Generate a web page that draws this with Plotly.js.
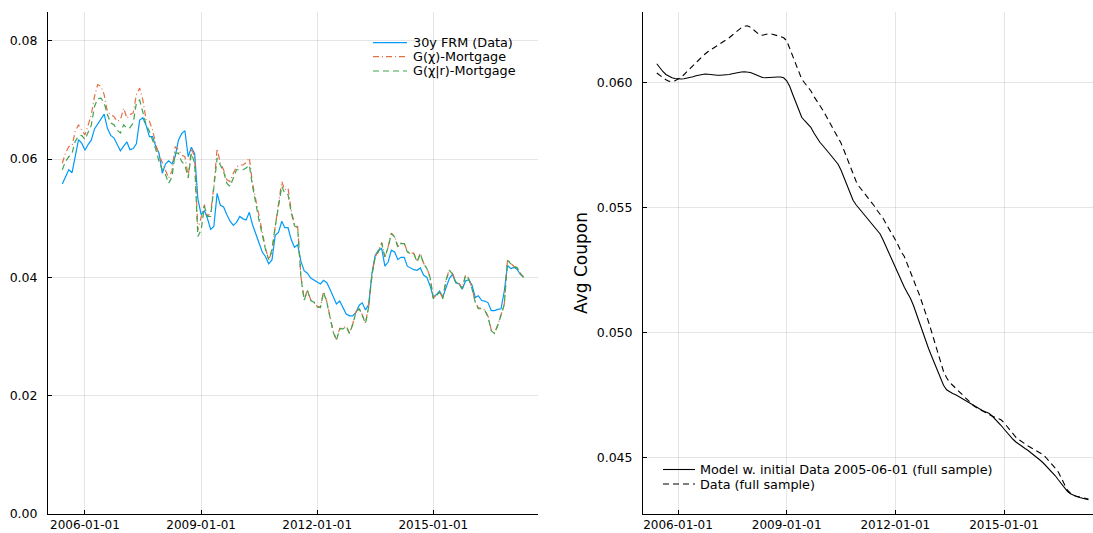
<!DOCTYPE html>
<html>
<head>
<meta charset="utf-8">
<script src="https://cdn.plot.ly/plotly-3.0.1.min.js"></script>
<style>html,body{margin:0;padding:0;background:#fff;}#chart{width:1093px;height:533px;}</style>
</head>
<body>
<div id="chart"></div>
<script>
// ---- data ----
const startYear = 2005, startMonth = 6, nMonths = 144;
const months = [];
for (let i = 0; i < nMonths; i++) {
  const m0 = startMonth - 1 + i;
  const y = startYear + Math.floor(m0 / 12);
  const m = (m0 % 12) + 1;
  months.push(y + '-' + (m < 10 ? '0' + m : m) + '-01');
}

const frm30 = [
  .0558,.0570,.0582,.0577,.0607,.0633,.0627,
  .0615,.0625,.0632,.0651,.0660,.0668,.0676,.0652,.0640,.0636,.0624,.0614,
  .0622,.0629,.0616,.0618,.0626,.0666,.0670,.0657,.0638,.0638,.0621,.0610,
  .0576,.0592,.0597,.0592,.0604,.0632,.0643,.0648,.0604,.0620,.0609,.0533,
  .0506,.0513,.0500,.0481,.0486,.0542,.0522,.0519,.0506,.0495,.0488,.0493,
  .0503,.0499,.0497,.0510,.0489,.0474,.0456,.0443,.0435,.0423,.0430,.0471,
  .0476,.0495,.0484,.0484,.0464,.0451,.0455,.0427,.0411,.0407,.0399,.0396,
  .0392,.0389,.0395,.0391,.0380,.0368,.0355,.0360,.0350,.0338,.0335,.0335,
  .0341,.0353,.0357,.0345,.0354,.0407,.0437,.0446,.0449,.0419,.0426,.0446,
  .0443,.0430,.0434,.0434,.0419,.0416,.0413,.0412,.0416,.0404,.0400,.0386,
  .0367,.0371,.0377,.0367,.0384,.0398,.0405,.0391,.0389,.0380,.0394,.0396,
  .0387,.0366,.0369,.0361,.0360,.0357,.0344,.0344,.0346,.0347,.0377,.0420,
  .0415,.0417,.0414,.0405,.0401
];

const gChi = [
  .0593,.0610,.0621,.0623,.0647,.0658,.0649,
  .0641,.0658,.0675,.0706,.0726,.0723,.0709,.0680,.0675,.0672,.0664,.0666,
  .0686,.0669,.0675,.0678,.0709,.0720,.0700,.0666,.0664,.0649,.0624,.0607,
  .0593,.0579,.0568,.0580,.0621,.0616,.0607,.0604,.0571,.0618,.0604,.0480,
  .0503,.0523,.0503,.0509,.0554,.0618,.0593,.0582,.0565,.0562,.0576,.0587,
  .0590,.0590,.0594,.0602,.0559,.0531,.0503,.0475,.0449,.0430,.0444,.0486,
  .0525,.0562,.0548,.0551,.0514,.0489,.0486,.0401,.0362,.0379,.0362,.0359,
  .0351,.0350,.0376,.0359,.0334,.0308,.0295,.0314,.0314,.0318,.0306,.0321,
  .0342,.0348,.0337,.0323,.0351,.0404,.0435,.0444,.0459,.0435,.0452,.0475,
  .0469,.0452,.0458,.0458,.0444,.0441,.0441,.0427,.0441,.0424,.0416,.0401,
  .0365,.0370,.0376,.0365,.0396,.0413,.0407,.0393,.0390,.0382,.0404,.0399,
  .0382,.0359,.0348,.0348,.0345,.0334,.0311,.0306,.0320,.0337,.0355,.0430,
  .0424,.0418,.0418,.0407,.0401
];

const gChiR = [
  .0582,.0596,.0604,.0610,.0630,.0639,.0640,
  .0633,.0646,.0657,.0689,.0702,.0703,.0695,.0675,.0661,.0658,.0649,.0644,
  .0658,.0652,.0653,.0661,.0695,.0700,.0680,.0658,.0647,.0633,.0616,.0596,
  .0582,.0573,.0559,.0570,.0610,.0610,.0596,.0590,.0568,.0610,.0593,.0469,
  .0480,.0520,.0503,.0503,.0548,.0602,.0590,.0579,.0559,.0554,.0568,.0582,
  .0582,.0582,.0585,.0590,.0554,.0523,.0497,.0472,.0447,.0430,.0447,.0486,
  .0520,.0554,.0542,.0540,.0510,.0487,.0484,.0400,.0361,.0378,.0361,.0358,
  .0350,.0349,.0375,.0358,.0333,.0307,.0294,.0313,.0313,.0317,.0305,.0320,
  .0341,.0347,.0336,.0322,.0350,.0403,.0434,.0443,.0458,.0434,.0451,.0474,
  .0468,.0451,.0457,.0457,.0443,.0440,.0440,.0426,.0440,.0423,.0415,.0400,
  .0364,.0369,.0375,.0364,.0395,.0412,.0406,.0392,.0389,.0381,.0403,.0398,
  .0381,.0358,.0347,.0347,.0344,.0333,.0310,.0305,.0319,.0336,.0354,.0429,
  .0423,.0417,.0417,.0406,.0400
];

const modelCoupon = [
  .06076,.06060,.06045,.06033,.06025,.06020,.06017,
  .06015,.06015,.06016,.06018,.06020,.06024,.06028,.06031,.06034,.06035,.06034,.06032,
  .06031,.06030,.06030,.06030,.06031,.06033,.06036,.06039,.06041,.06043,.06044,.06044,
  .06041,.06036,.06032,.06026,.06021,.06020,.06021,.06023,.06024,.06023,.06023,.06020,
  .06008,.05985,.05955,.05925,.05893,.05862,.05848,.05836,.05822,.05800,.05780,.05762,
  .05748,.05735,.05720,.05705,.05690,.05675,.05652,.05620,.05585,.05555,.05530,.05512,
  .05497,.05483,.05470,.05456,.05442,.05428,.05413,.05395,.05370,.05343,.05313,.05286,
  .05258,.05230,.05205,.05182,.05160,.05138,.05110,.05075,.05037,.05000,.04968,.04937,
  .04906,.04878,.04850,.04822,.04790,.04772,.04764,.04757,.04752,.04745,.04738,.04730,
  .04722,.04714,.04707,.04700,.04694,.04688,.04683,.04678,.04668,.04656,.04644,.04630,
  .04615,.04600,.04586,.04574,.04563,.04553,.04545,.04537,.04529,.04520,.04510,.04500,
  .04490,.04479,.04467,.04455,.04443,.04428,.04412,.04396,.04380,.04366,.04356,.04349,
  .04345,.04341,.04338,.04335,.04332
];

const dataCoupon = [
  .06039,.06030,.06020,.06012,.06006,.06005,.06008,
  .06014,.06021,.06032,.06045,.06058,.06070,.06080,.06092,.06105,.06115,.06125,.06133,
  .06141,.06149,.06155,.06162,.06170,.06180,.06190,.06200,.06210,.06220,.06226,.06228,
  .06222,.06212,.06200,.06192,.06190,.06193,.06196,.06195,.06190,.06188,.06185,.06180,
  .06168,.06138,.06105,.06075,.06045,.06015,.05999,.05985,.05968,.05946,.05928,.05910,
  .05890,.05868,.05845,.05825,.05803,.05782,.05760,.05730,.05700,.05670,.05638,.05606,
  .05585,.05570,.05555,.05540,.05525,.05508,.05490,.05475,.05457,.05435,.05415,.05397,
  .05372,.05348,.05323,.05305,.05275,.05245,.05215,.05182,.05150,.05115,.05082,.05043,
  .05003,.04963,.04922,.04880,.04845,.04820,.04802,.04790,.04778,.04765,.04752,.04740,
  .04728,.04717,.04708,.04700,.04693,.04686,.04679,.04672,.04667,.04662,.04657,.04652,
  .04640,.04625,.04610,.04595,.04582,.04572,.04563,.04555,.04547,.04540,.04533,.04527,
  .04521,.04512,.04500,.04487,.04473,.04458,.04443,.04420,.04395,.04370,.04358,.04350,
  .04346,.04343,.04340,.04337,.04335
];

const dateTicks = ['2006-01-01','2009-01-01','2012-01-01','2015-01-01'];
const leftYTicks = [0, 0.02, 0.04, 0.06, 0.08];
const leftYText = ['0.00','0.02','0.04','0.06','0.08'];
const rightYTicks = [0.045, 0.050, 0.055, 0.060];
const rightYText = ['0.045','0.050','0.055','0.060'];

// ---- chart ----
const FONT = 'DejaVu Sans, sans-serif';
const W = 1093, H = 533;
const TICK = 12.5, XTICK = 12, LEG = 12.8, GUIDE = 17;

const styles = {
  frm: {color: '#009AFA', width: 1.2},
  gchi: {color: '#E36F47', width: 1.2, dash: '6px,3px,1px,3px'},
  gchir: {color: '#3EA44E', width: 1.2, dash: '6px,4px'},
  model: {color: '#000000', width: 1.1},
  data: {color: '#000000', width: 1.1, dash: '6px,4px'}
};

const traces = [
  {x: months, y: frm30, name: '30y FRM (Data)', type: 'scatter', mode: 'lines', line: styles.frm, xaxis: 'x', yaxis: 'y'},
  {x: months, y: gChi, name: 'G(χ)-Mortgage', type: 'scatter', mode: 'lines', line: styles.gchi, xaxis: 'x', yaxis: 'y'},
  {x: months, y: gChiR, name: 'G(χ|r)-Mortgage', type: 'scatter', mode: 'lines', line: styles.gchir, xaxis: 'x', yaxis: 'y'},
  {x: months, y: modelCoupon, name: 'Model w. initial Data 2005-06-01 (full sample)', type: 'scatter', mode: 'lines', line: styles.model, xaxis: 'x2', yaxis: 'y2'},
  {x: months, y: dataCoupon, name: 'Data (full sample)', type: 'scatter', mode: 'lines', line: styles.data, xaxis: 'x2', yaxis: 'y2'}
];

// compact legends (Plots.jl style row spacing) built from the traces
const legendSpecs = [
  {traces: [0, 1, 2], x0: 373, x1: 407, tx: 411, rows: [42.7, 56.7, 71]},
  {traces: [3, 4], x0: 663, x1: 695, tx: 698, rows: [469.5, 484]}
];
const shapes = [], annotations = [];
legendSpecs.forEach(function (spec) {
  spec.traces.forEach(function (ti, r) {
    const yy = (H - spec.rows[r]) / H;
    const ln = traces[ti].line;
    shapes.push({type: 'line', xref: 'paper', yref: 'paper',
      x0: spec.x0 / W, x1: spec.x1 / W, y0: yy, y1: yy,
      line: {color: ln.color, width: ln.width, dash: ln.dash || 'solid'}});
    annotations.push({xref: 'paper', yref: 'paper', x: spec.tx / W, y: yy,
      xanchor: 'left', yanchor: 'middle', showarrow: false, text: traces[ti].name,
      font: {family: FONT, size: LEG, color: '#000'}});
  });
});

const axisCommon = {
  showgrid: true, gridcolor: 'rgba(0,0,0,0.1)', gridwidth: 1,
  showline: true, linecolor: '#000', linewidth: 1,
  ticks: 'inside', ticklen: 4, tickcolor: '#000', tickwidth: 1,
  zeroline: false, mirror: false,
  tickfont: {family: FONT, size: TICK, color: '#000'}
};

const layout = {
  width: W, height: H,
  margin: {l: 0, r: 0, t: 0, b: 0},
  paper_bgcolor: '#fff', plot_bgcolor: '#fff',
  font: {family: FONT, size: TICK, color: '#000'},
  showlegend: false,
  shapes: shapes,
  annotations: annotations,
  xaxis: Object.assign({}, axisCommon, {
    domain: [48 / W, 538 / W], anchor: 'y', type: 'date',
    range: ['2005-01-17', '2017-09-15'],
    tickmode: 'array', tickvals: dateTicks, ticktext: dateTicks, ticklabelstandoff: 0,
    tickfont: {family: FONT, size: XTICK, color: '#000'}
  }),
  yaxis: Object.assign({}, axisCommon, {
    domain: [19 / H, 521 / H], anchor: 'x',
    range: [0, 0.08487],
    tickmode: 'array', tickvals: leftYTicks, ticktext: leftYText, ticklabelstandoff: 7
  }),
  xaxis2: Object.assign({}, axisCommon, {
    domain: [643 / W, 1], anchor: 'y2', type: 'date',
    range: ['2005-01-13', '2017-06-16'],
    tickmode: 'array', tickvals: dateTicks, ticktext: dateTicks, ticklabelstandoff: 0,
    tickfont: {family: FONT, size: XTICK, color: '#000'}
  }),
  yaxis2: Object.assign({}, axisCommon, {
    domain: [19 / H, 521 / H], anchor: 'x2',
    range: [0.04275, 0.06283],
    tickmode: 'array', tickvals: rightYTicks, ticktext: rightYText, ticklabelstandoff: 7,
    title: {text: 'Avg Coupon', font: {family: FONT, size: GUIDE, color: '#000'}, standoff: 4}
  })
};

Plotly.newPlot('chart', traces, layout, {displayModeBar: false, staticPlot: true});
</script>
</body>
</html>
